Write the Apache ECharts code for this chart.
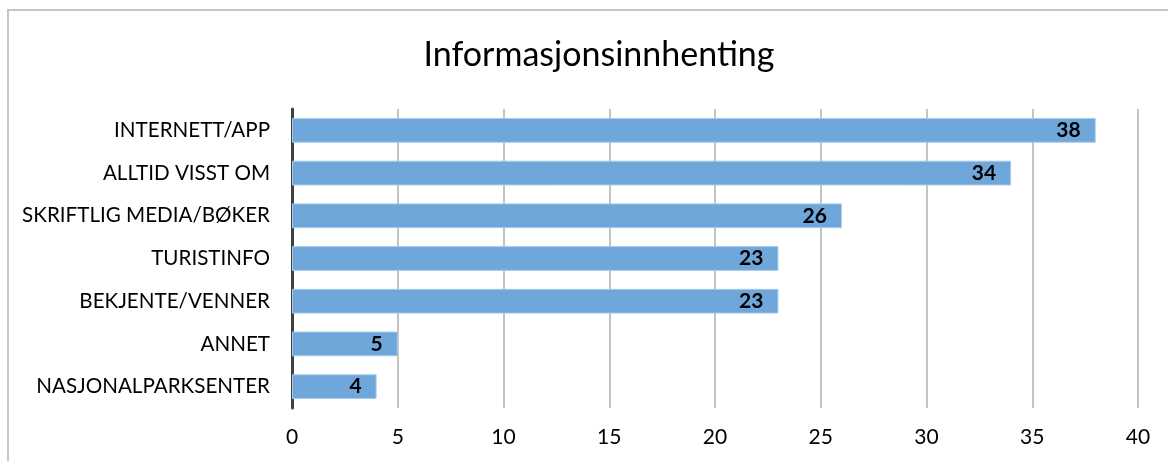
<!DOCTYPE html>
<html><head><meta charset="utf-8">
<script src="https://cdn.jsdelivr.net/npm/echarts@6/dist/echarts.min.js"></script>
<style>html,body{margin:0;padding:0;background:#fff}#c{width:1168px;height:461px}</style>
</head><body><div id="c"></div>
<script>
const categories = ['NASJONALPARKSENTER','ANNET','BEKJENTE/VENNER','TURISTINFO','SKRIFTLIG MEDIA/BØKER','ALLTID VISST OM','INTERNETT/APP'];
const values = [4,5,23,23,26,34,38];
const titleText = 'Informasjonsinnhenting';
const font = 'Lato, "Open Sans", sans-serif';
const chart = echarts.init(document.getElementById('c'));
chart.setOption({
  animation:false,
  backgroundColor:'#fff',
  graphic:[{type:'rect',shape:{x:8,y:10,width:1200,height:500},style:{fill:'none',stroke:'#c6c6c6',lineWidth:2},silent:true}],
  title:{text:titleText,left:594,top:33,textAlign:'center',textStyle:{fontFamily:font,fontSize:34,fontWeight:'normal',color:'#000'}},
  grid:{left:292,right:30,top:109,bottom:53,containLabel:false},
  xAxis:{type:'value',min:0,max:40,interval:5,
    axisLine:{show:false},axisTick:{show:false},
    axisLabel:{fontFamily:font,fontSize:21,color:'#000',margin:19},
    splitLine:{show:true,lineStyle:{color:'#c3c3c3',width:2}}},
  yAxis:{type:'category',data:categories,
    axisLine:{show:true,lineStyle:{color:'#404040',width:3}},
    axisTick:{show:false},
    axisLabel:{fontFamily:font,fontSize:20.6,color:'#000',margin:22}},
  series:[{type:'bar',data:values,barCategoryGap:'42%',
    itemStyle:{color:'#6fa7da',borderColor:'#a8cbeb',borderWidth:1},
    label:{show:true,position:'insideRight',distance:15,fontFamily:font,fontSize:21,fontWeight:'bold',color:'#000'}}]
});
</script></body></html>
